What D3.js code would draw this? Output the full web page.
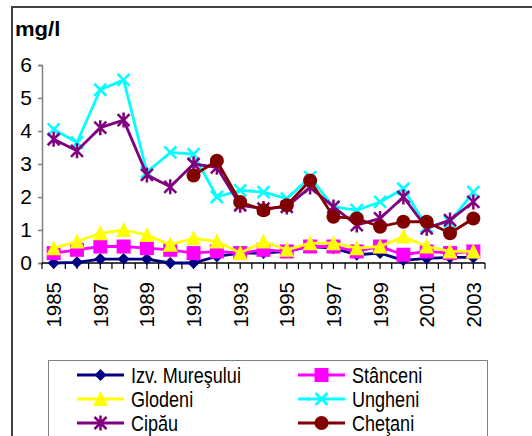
<!DOCTYPE html>
<html>
<head>
<meta charset="utf-8">
<script src="https://cdn.jsdelivr.net/npm/d3@7"></script>
<style>
  body { margin: 0; background: #fff; }
  svg { font-family: Arial, "Liberation Sans", sans-serif; display: block; }
</style>
</head>
<body>
<div id="chart"></div>
<script>
const years = [1985, 1986, 1987, 1988, 1989, 1990, 1991, 1992, 1993, 1994,
               1995, 1996, 1997, 1998, 1999, 2000, 2001, 2002, 2003];
const yTicks = [0, 1, 2, 3, 4, 5, 6];

const izvMuresului = [0, 0.02, 0.12, 0.12, 0.12, 0, 0, 0.2, 0.3, 0.3, 0.35, 0.5, 0.45, 0.25, 0.3, 0.08, 0.14, 0.17, 0.17];
const stanceni = [0.3, 0.4, 0.5, 0.5, 0.45, 0.4, 0.3, 0.35, 0.3, 0.4, 0.35, 0.5, 0.5, 0.35, 0.5, 0.25, 0.35, 0.3, 0.35];
const glodeni = [0.45, 0.65, 0.9, 1.0, 0.85, 0.55, 0.75, 0.65, 0.3, 0.65, 0.4, 0.6, 0.6, 0.45, 0.5, 0.8, 0.5, 0.35, 0.35];
const ungheni = [4.05, 3.65, 5.25, 5.55, 2.75, 3.35, 3.3, 2.0, 2.2, 2.15, 1.95, 2.6, 1.7, 1.6, 1.85, 2.25, 1.1, 1.25, 2.15];
const cipau = [3.75, 3.4, 4.1, 4.33, 2.67, 2.31, 3.0, 2.9, 1.75, 1.65, 1.7, 2.3, 1.7, 1.15, 1.35, 2.0, 1.05, 1.3, 1.85];
const chetani = [null, null, null, null, null, null, 2.65, 3.1, 1.85, 1.6, 1.75, 2.5, 1.4, 1.35, 1.1, 1.25, 1.25, 0.9, 1.35];

const series = [
    { name: "Izv. Mureşului", values: izvMuresului, color: "#000080", marker: "diamond" },
    { name: "Stânceni", values: stanceni, color: "#ff00ff", marker: "square" },
    { name: "Glodeni", values: glodeni, color: "#ffff00", marker: "triangle" },
    { name: "Ungheni", values: ungheni, color: "#00ffff", marker: "x" },
    { name: "Cipău", values: cipau, color: "#800080", marker: "star" },
    { name: "Cheţani", values: chetani, color: "#800000", marker: "circle" }
];

const width = 532;
const height = 436;

const svg = d3.select("#chart")
    .append("svg")
    .attr("width", width)
    .attr("height", height);

// outer chart frame (runs off the right and bottom edge)
svg.append("path")
    .attr("d", "M12,600V7H600")
    .attr("fill", "none")
    .attr("stroke", "#404040")
    .attr("stroke-width", 2);

svg.append("text")
    .attr("transform", "translate(15,36) scale(1.05,1)")
    .attr("font-size", 21)
    .attr("font-weight", "bold")
    .text("mg/l");

const x = d3.scalePoint().domain(years).range([42, 485]).padding(0.5);
const y = d3.scaleLinear().domain([0, 6]).range([263, 65]);
const step = x.step();

// y axis
const yAxis = svg.append("g")
    .attr("transform", "translate(42,0)")
    .call(d3.axisLeft(y).tickValues(yTicks).tickSize(4).tickPadding(6).tickFormat(d3.format("d")));
yAxis.select(".domain").attr("stroke", "#808080").attr("stroke-width", 1.5);
yAxis.selectAll(".tick line").attr("stroke", "#808080").attr("stroke-width", 1.5);
yAxis.selectAll(".tick text")
    .attr("font-size", 21)
    .attr("font-family", "Arial, 'Liberation Sans', sans-serif")
    .attr("fill", "#000");

// x axis: ticks every half category
const halfTicks = d3.range(0, years.length * 2 + 1).map(i => 42 + i * step / 2);
svg.append("g")
    .selectAll("line")
    .data(halfTicks)
    .enter()
    .append("line")
    .attr("x1", d => d)
    .attr("x2", d => d)
    .attr("y1", y(0))
    .attr("y2", y(0) + 6)
    .attr("stroke", "#000")
    .attr("stroke-width", 1.2);

svg.append("line")
    .attr("x1", 42)
    .attr("x2", 485)
    .attr("y1", y(0))
    .attr("y2", y(0))
    .attr("stroke", "#000")
    .attr("stroke-width", 1.5);

svg.append("g")
    .selectAll("text")
    .data(years.filter((d, i) => i % 2 === 0))
    .enter()
    .append("text")
    .attr("transform", d => `translate(${x(d) + 7.5},${y(0) + 19}) rotate(-90)`)
    .attr("text-anchor", "end")
    .attr("font-size", 20.5)
    .text(d => d);

// MARKERS
function drawMarker(g, type, color) {
    if (type === "diamond") {
        g.append("path").attr("d", "M0,-6L6,0L0,6L-6,0Z").attr("fill", color);
    } else if (type === "square") {
        g.append("rect").attr("x", -7).attr("y", -7).attr("width", 14).attr("height", 14).attr("fill", color);
    } else if (type === "triangle") {
        g.append("path").attr("d", "M0,-8L7.5,7L-7.5,7Z").attr("fill", color);
    } else if (type === "circle") {
        g.append("circle").attr("r", 7).attr("fill", color);
    } else {
        let d = "M-6,-6L6,6M-6,6L6,-6";
        if (type === "star") d += "M0,-7.5V7.5";
        g.append("path").attr("d", d).attr("stroke", color).attr("stroke-width", 2.5).attr("fill", "none");
    }
}

const line = d3.line()
    .defined(d => d.v !== null)
    .x(d => x(d.year))
    .y(d => y(d.v));

series.forEach(s => {
    const pts = years.map((year, i) => ({ year, v: s.values[i] }));
    const g = svg.append("g");
    g.append("path")
        .datum(pts)
        .attr("d", line)
        .attr("fill", "none")
        .attr("stroke", s.color)
        .attr("stroke-width", 2.8)
        .attr("stroke-linejoin", "round");
    pts.filter(p => p.v !== null).forEach(p => {
        const m = g.append("g").attr("transform", `translate(${x(p.year)},${y(p.v)})`);
        drawMarker(m, s.marker, s.color);
    });
});

// LEGEND
svg.append("rect")
    .attr("x", 48.5)
    .attr("y", 360.5)
    .attr("width", 439)
    .attr("height", 120)
    .attr("fill", "#fff")
    .attr("stroke", "#808080")
    .attr("stroke-width", 1);

const legendCols = [77, 298];
const legendRows = [375, 399, 423];

series.forEach((s, i) => {
    const lx = legendCols[i % 2];
    const ly = legendRows[Math.floor(i / 2)];
    const g = svg.append("g");
    g.append("line")
        .attr("x1", lx)
        .attr("x2", lx + 47)
        .attr("y1", ly)
        .attr("y2", ly)
        .attr("stroke", s.color)
        .attr("stroke-width", 2.8);
    const m = g.append("g").attr("transform", `translate(${lx + 23.5},${ly})`);
    drawMarker(m, s.marker, s.color);
    g.append("text")
        .attr("transform", `translate(${lx + 54},${ly + 8}) scale(0.82,1)`)
        .attr("font-size", 22)
        .text(s.name);
});
</script>
</body>
</html>
